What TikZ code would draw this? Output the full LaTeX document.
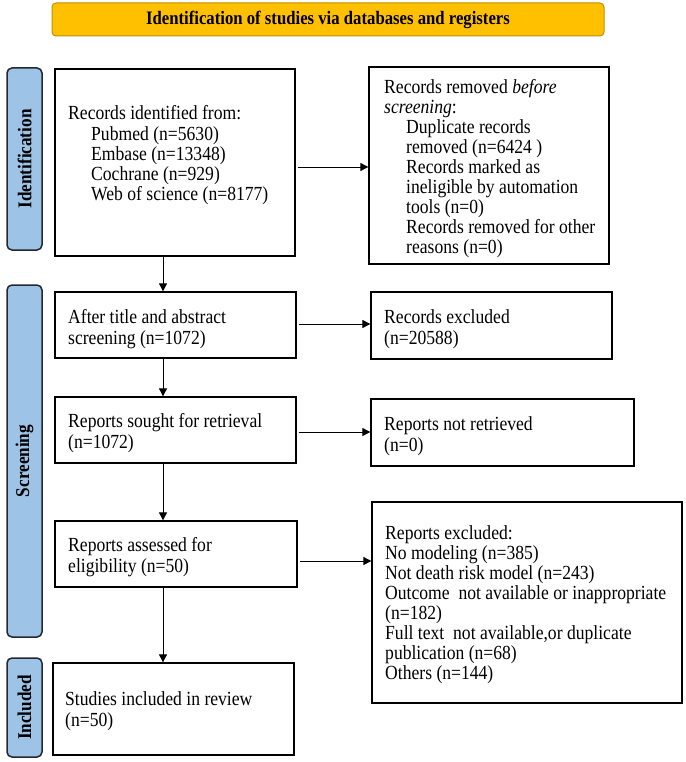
\documentclass[tikz,border=0pt]{standalone}
\usepackage{fontspec}
\setmainfont{Liberation Serif}[FakeStretch=0.88]
\usetikzlibrary{arrows.meta}
\definecolor{banner}{RGB}{255,192,0}
\definecolor{bannerline}{RGB}{191,144,0}
\definecolor{side}{RGB}{157,195,230}
\definecolor{sideline}{RGB}{35,40,50}
\newcommand\mkbox[5]{\node[boxst, minimum width={#4-#2}, minimum height={#5-#3}] (#1) at ({(#2+#4)/2},{(#3+#5)/2}) {};}
\begin{document}
\begin{tikzpicture}[x=1pt,y=-1pt,
  boxst/.style={draw=black, line width=1.3pt, inner sep=0pt},
  txt/.style={inner sep=0pt, anchor=base west, align=left, font=\fontsize{20}{20.1}\selectfont},
  txtb/.style={inner sep=0pt, anchor=base west, align=left, font=\fontsize{20}{21}\selectfont},
  sidest/.style={draw=sideline, fill=side, line width=1.5pt, rounded corners=5pt, rotate=90, inner sep=0pt, font=\fontsize{19.5}{20}\selectfont\bfseries},
  arr/.style={line width=0.9pt, -{Triangle[length=8pt,width=8pt]}}]
\useasboundingbox (0,0) rectangle (685,762);
% banner
\node[draw=bannerline, fill=banner, line width=1pt, rounded corners=4pt, minimum width=552pt, minimum height=33pt, inner sep=0pt, font=\fontsize{19}{20}\selectfont\bfseries] (title) at (328,19.5) {Identification of studies via databases and registers};
% side bars
\node[sidest, minimum width=182pt, minimum height=35pt] (s1) at (24.5,159) {Identification};
\node[sidest, minimum width=352pt, minimum height=35pt] (s2) at (24.5,461) {Screening};
\node[sidest, minimum width=99pt, minimum height=35pt] (s3) at (24.5,707.5) {Included};
% boxes
\mkbox{b1}{55}{69}{295}{256}
\mkbox{b2}{369}{67}{609}{264}
\mkbox{b3}{55}{292}{296}{358}
\mkbox{b4}{371}{292}{612}{359}
\mkbox{b5}{55}{397}{296}{463}
\mkbox{b6}{371}{399}{634}{466}
\mkbox{b7}{55}{521}{297}{587}
\mkbox{b8}{372}{502}{682}{703}
\mkbox{b9}{53}{663}{294}{755}
% texts (anchored at the baseline of their last line)
\node[txt] (t1) at (68,200.4) {Records identified from:\\\hspace*{23pt}Pubmed (n=5630)\\\hspace*{23pt}Embase (n=13348)\\\hspace*{23pt}Cochrane (n=929)\\\hspace*{23pt}Web of science (n=8177)};
\node[txt] (t2) at (384,253.8) {Records removed \textit{before}\\\textit{screening}:\\\hspace*{22pt}Duplicate records\\\hspace*{22pt}removed (n=6424 )\\\hspace*{22pt}Records marked as\\\hspace*{22pt}ineligible by automation\\\hspace*{22pt}tools (n=0)\\\hspace*{22pt}Records removed for other\\\hspace*{22pt}reasons (n=0)};
\node[txtb] (t3) at (68,344) {After title and abstract\\screening (n=1072)};
\node[txtb] (t4) at (384,344) {Records excluded\\(n=20588)};
\node[txtb] (t5) at (68,448) {Reports sought for retrieval\\(n=1072)};
\node[txtb] (t6) at (384,451) {Reports not retrieved\\(n=0)};
\node[txtb] (t7) at (68,572) {Reports assessed for\\eligibility (n=50)};
\node[txt] (t8) at (385,679.7) {Reports excluded:\\No modeling (n=385)\\Not death risk model (n=243)\\Outcome\ \ not available or inappropriate\\(n=182)\\Full text\ \ not available,or duplicate\\publication (n=68)\\Others (n=144)};
\node[txtb] (t9) at (65,726) {Studies included in review\\(n=50)};
% connectors
\coordinate (vx) at (163,0);
\coordinate (h1) at (0,167);
\coordinate (h2) at (0,324);
\coordinate (h3) at (0,432);
\coordinate (h4) at (0,561);
\draw[arr] (b1.south -| vx) -- (b3.north -| vx);
\draw[arr] (b3.south -| vx) -- (b5.north -| vx);
\draw[arr] (b5.south -| vx) -- (b7.north -| vx);
\draw[arr] (b7.south -| vx) -- (b9.north -| vx);
\draw[arr, shorten <=2pt] (b1.east |- h1) -- (b2.west |- h1);
\draw[arr, shorten <=2pt] (b3.east |- h2) -- (b4.west |- h2);
\draw[arr, shorten <=2pt] (b5.east |- h3) -- (b6.west |- h3);
\draw[arr, shorten <=2pt] (b7.east |- h4) -- (b8.west |- h4);
\end{tikzpicture}
\end{document}
